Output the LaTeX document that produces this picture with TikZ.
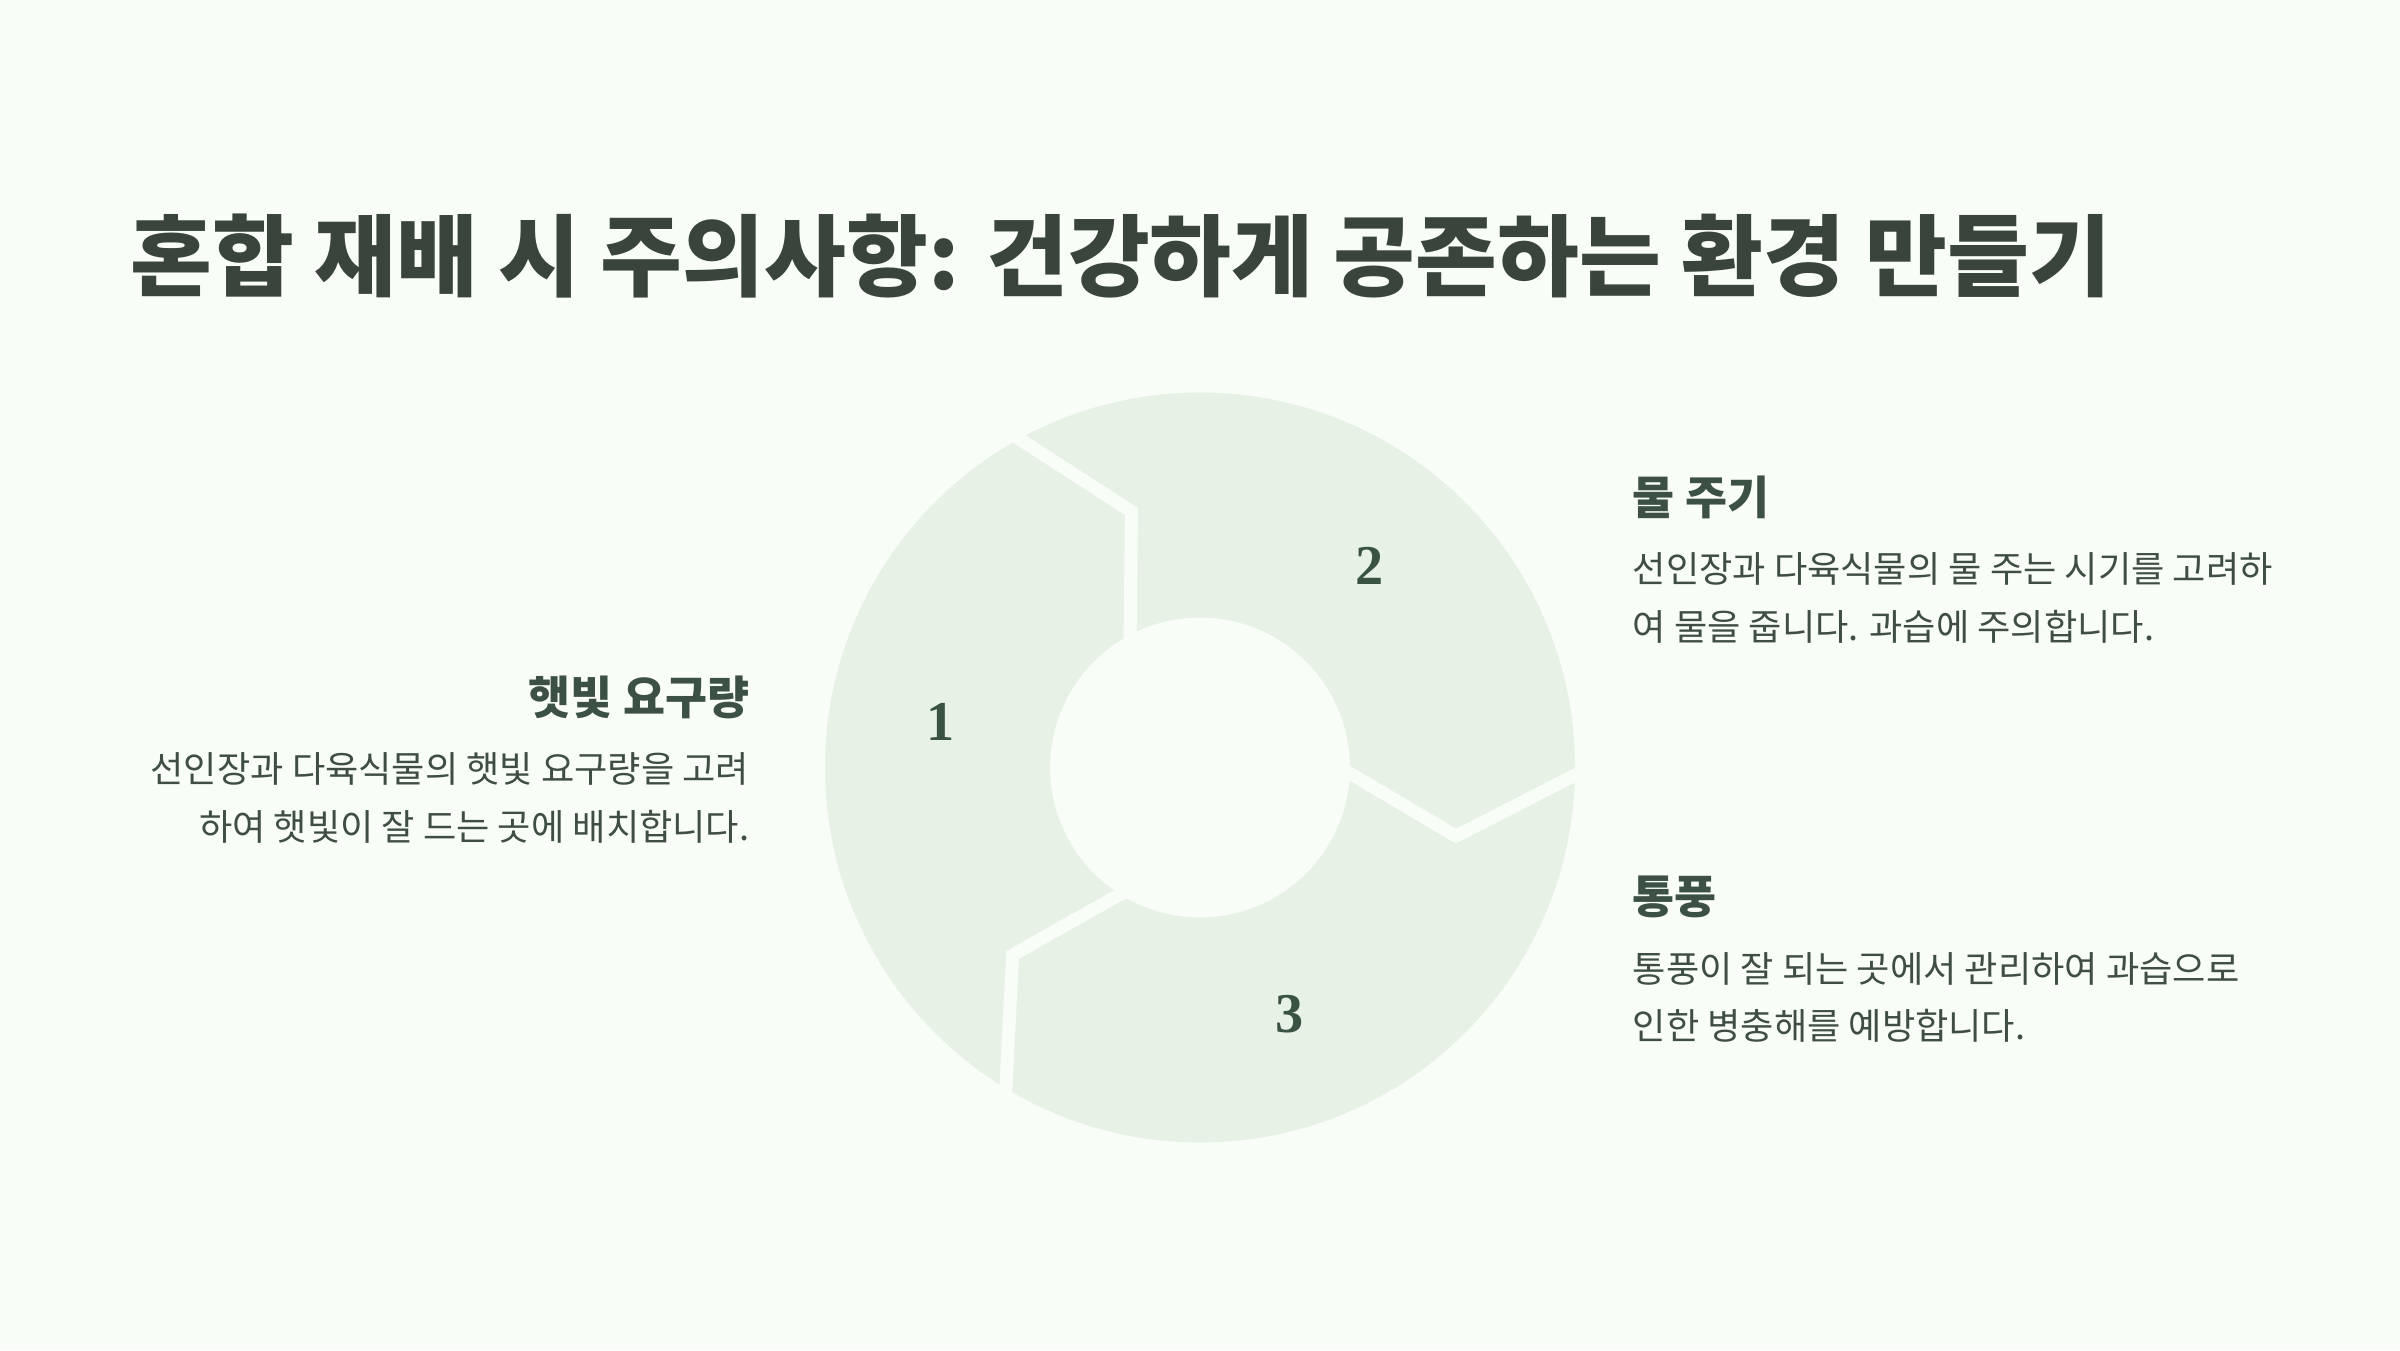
\documentclass[tikz,border=0pt]{standalone}
\usepackage{fontspec}
\setmainfont{Noto Sans CJK KR}
\newfontfamily\numfont{Liberation Serif}
\usetikzlibrary{positioning}
\definecolor{bgC}   {RGB}{249,253,247}
\definecolor{ringC} {RGB}{231,241,230}
\definecolor{titleC}{RGB}{ 57, 68, 61}
\definecolor{headC} {RGB}{ 60, 80, 68}
\definecolor{bodyC} {RGB}{ 62, 78, 68}
\definecolor{numC}  {RGB}{ 58, 82, 66}
\tikzset{
  ring/.style    = {fill=ringC, even odd rule},
  cut/.style     = {draw=bgC, line width=0.13cm, line join=miter},
  titletxt/.style= {font=\fontsize{25.3}{30}\selectfont\bfseries, text=titleC,
                    anchor=west, inner sep=0pt},
  head/.style    = {font=\fontsize{13}{15}\selectfont\bfseries, text=headC, inner sep=0pt},
  body/.style    = {font=\fontsize{10.3}{16.4}\selectfont, text=bodyC, inner sep=0pt},
  numtxt/.style  = {font=\numfont\fontsize{16}{18}\selectfont\bfseries, text=numC},
}

\begin{document}
\begin{tikzpicture}

% ---- Canvas -----------------------------------------------------------------
\fill[bgC] (0,0) rectangle (24,13.5);
\useasboundingbox (0,0) rectangle (24,13.5);

% ---- Title ------------------------------------------------------------------
\node[titletxt] (T) at (1.3,10.94) {혼합 재배 시 주의사항: 건강하게 공존하는 환경 만들기};

% ---- Cycle ring -------------------------------------------------------------
\coordinate (C) at (12,5.825);
\fill[ring] (C) circle (3.75) (C) circle (1.5);
\foreach \a in {120, 0, 240}
  \draw[cut] ([shift={(\a:3.9)}]C) -- ([shift={(\a-15:2.65)}]C) -- ([shift={(\a:1.4)}]C);

\foreach \ang/\num in {170/1, 50/2, -70/3}
  \node[numtxt] (N\num) at ([shift={(\ang:2.63)}]C) {\num};

% ---- Left text --------------------------------------------------------------
\node[head, anchor=east] (H1) at (7.5,6.53) {햇빛 요구량};
\node[body, align=right, below=0.33cm of H1.south east, anchor=north east] (B1)
  {선인장과 다육식물의 햇빛 요구량을 고려\\하여 햇빛이 잘 드는 곳에 배치합니다.};

% ---- Right text -------------------------------------------------------------
\node[head, anchor=west] (H2) at (16.32,8.53) {물 주기};
\node[body, align=left, below=0.33cm of H2.south west, anchor=north west] (B2)
  {선인장과 다육식물의 물 주는 시기를 고려하\\여 물을 줍니다. 과습에 주의합니다.};

\node[head, anchor=west] (H3) at (16.32,4.53) {통풍};
\node[body, align=left, below=0.33cm of H3.south west, anchor=north west] (B3)
  {통풍이 잘 되는 곳에서 관리하여 과습으로\\인한 병충해를 예방합니다.};

\end{tikzpicture}
\end{document}
